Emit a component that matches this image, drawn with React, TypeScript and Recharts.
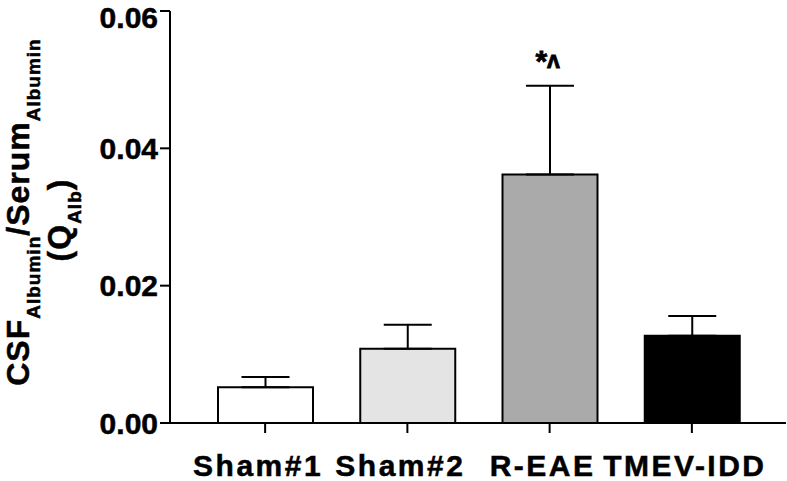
import React from 'react';
import { BarChart, Bar, XAxis, YAxis, ErrorBar, Cell, ReferenceDot } from 'recharts';

const groups = ['Sham#1', 'Sham#2', 'R-EAE', 'TMEV-IDD'];
const means = [0.0052, 0.0108, 0.0362, 0.0127];
const sems = [0.0015, 0.0035, 0.0129, 0.0029];
const fills = ['#ffffff', '#e4e4e4', '#aaaaaa', '#000000'];
const annotations = ['', '', '*^', ''];
const yTicks = [0, 0.02, 0.04, 0.06];

const data = groups.map((g, i) => ({ group: g, mean: means[i], err: [0, sems[i]] }));

const FONT = '"Liberation Sans", Arial, Helvetica, sans-serif';

const YLabel = (props: any) => {
  const vb = props.viewBox ?? { x: 0, y: 11, width: 170, height: 412 };
  const cy = vb.y + vb.height / 2;
  const x1 = vb.x + 29;
  const x2 = vb.x + 70;
  const c1 = cy - 5;
  const c2 = cy + 3;
  return (
    <g fontFamily={FONT} fontWeight="bold" fill="#000" stroke="#000" strokeWidth={0.5} letterSpacing={1}>
      <text transform={`rotate(-90, ${x1}, ${c1})`} x={x1} y={c1} textAnchor="middle" fontSize={32}>
        <tspan>CSF</tspan>
        <tspan fontSize={19} dy={11}>Albumin</tspan>
        <tspan dy={-11}>/Serum</tspan>
        <tspan fontSize={19} dy={11}>Albumin</tspan>
      </text>
      <text transform={`rotate(-90, ${x2}, ${c2})`} x={x2} y={c2} textAnchor="middle" fontSize={32}>
        <tspan>(Q</tspan>
        <tspan fontSize={19} dy={11}>Alb</tspan>
        <tspan dy={-11}>)</tspan>
      </text>
    </g>
  );
};

const StarLabel = (props: any) => {
  const vb = props.viewBox ?? { x: 0, y: 0, width: 0, height: 0 };
  const cx = vb.x + vb.width / 2 - 2;
  const y = vb.y + vb.height / 2 - 15;
  return (
    <text x={cx} y={y} textAnchor="middle" fontFamily={FONT} fontWeight="bold" fontSize={30} fill="#000" stroke="#000" strokeWidth={0.8}>
      <tspan>*</tspan>
      <tspan fontSize={23} dy={-3}>{'\u028C'}</tspan>
    </text>
  );
};

const yTickStyle = { fill: '#000', stroke: '#000', strokeWidth: 0.5, fontSize: 30, fontWeight: 'bold', fontFamily: FONT };
const xTickStyle = { ...yTickStyle, letterSpacing: 2.5, dx: -7 };
const lineStyle = { stroke: '#000', strokeWidth: 2 };

export default function App() {
  return (
    <div style={{ position: 'absolute', left: 0, top: 0, width: 787, height: 481, background: '#fff' }}>
      <BarChart width={787} height={481} data={data} margin={{ top: 11, right: 1, left: 0, bottom: 0 }} barSize={95}>
        <XAxis
          dataKey="group"
          height={58}
          padding={{ left: 24, right: 23 }}
          axisLine={lineStyle}
          tickLine={lineStyle}
          tickSize={10}
          tickMargin={22}
          tick={xTickStyle}
          interval={0}
        />
        <YAxis
          width={170}
          domain={[0, 0.06]}
          ticks={yTicks}
          tickFormatter={(v: number) => v.toFixed(2)}
          axisLine={lineStyle}
          tickLine={lineStyle}
          tickSize={10}
          tickMargin={2}
          tick={yTickStyle}
          allowDataOverflow
          label={<YLabel />}
        />
        <Bar dataKey="mean" stroke="#000" strokeWidth={2} isAnimationActive={false}>
          {data.map((d, i) => (
            <Cell key={d.group} fill={fills[i]} />
          ))}
          <ErrorBar dataKey="err" width={24} stroke="#000" strokeWidth={2} direction="y" isAnimationActive={false} />
        </Bar>
        {groups.map((g, i) =>
          annotations[i] ? (
            <ReferenceDot
              key={g}
              x={g}
              y={means[i] + sems[i]}
              r={1}
              fill="none"
              stroke="none"
              label={<StarLabel />}
            />
          ) : null
        )}
      </BarChart>
    </div>
  );
}
